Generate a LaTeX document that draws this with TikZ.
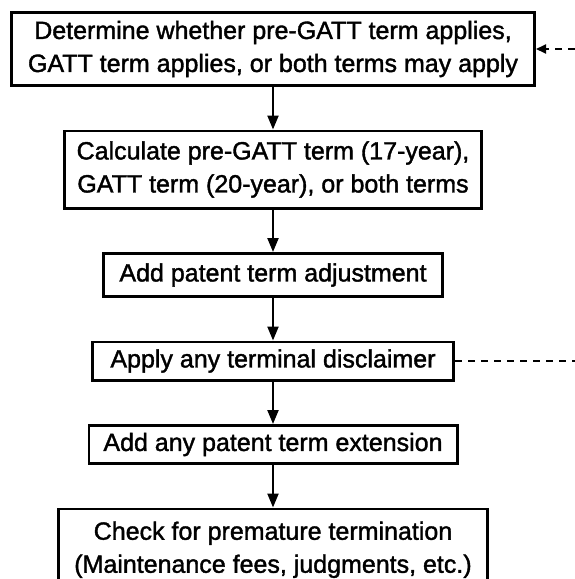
\documentclass[tikz,border=0pt]{standalone}
\usepackage{fontspec}
\setmainfont{Liberation Sans}
\newfontfamily\boxfont{Liberation Sans}[FakeBold=1.5]
\usetikzlibrary{positioning,arrows.meta}
\tikzset{
  stepbox/.style={draw=black, line width=2.6pt, fill=white, align=center, inner xsep=6pt, inner ysep=3pt,
                  font=\boxfont\fontsize{25}{33}\selectfont, minimum height=38.4pt, minimum width=#1},
  stepbox/.default=340pt,
  flow/.style={-{Triangle[length=14pt,width=11pt]}, line width=2.2pt, draw=black},
  dflow/.style={line width=2pt, dash pattern=on 7pt off 6pt, draw=black},
}
\begin{document}
\begin{tikzpicture}[x=1pt, y=-1pt, node distance=42.5pt]
  \useasboundingbox (0,0) rectangle (575,579);
  \node[stepbox=523.4pt, minimum height=73.4pt] (detm) at (273,49) {Determine whether pre-GATT term applies,\\GATT term applies, or both terms may apply};
  \node[stepbox=417.4pt, minimum height=77.4pt, below=of detm] (calc) {Calculate pre-GATT term (17-year),\\GATT term (20-year), or both terms};
  \node[stepbox=339.4pt, minimum height=43.4pt, below=of calc] (pta) {Add patent term adjustment};
  \node[stepbox=361.4pt, below=of pta] (tdis) {Apply any terminal disclaimer};
  \node[stepbox=368.4pt, below=of tdis] (pte) {Add any patent term extension};
  \node[stepbox=429.4pt, minimum height=82pt, below=of pte] (prem) {Check for premature termination\\(Maintenance fees, judgments, etc.)};
  % loose ends running off to the right
  \coordinate (edge) at (575,0);
  \draw[flow] (detm) -- (calc);
  \draw[flow] (calc) -- (pta);
  \draw[flow] (pta) -- (tdis);
  \draw[flow] (tdis) -- (pte);
  \draw[flow] (pte) -- (prem);
  \draw[dflow, -{Triangle[length=10pt,width=9pt]}] (edge |- detm.east) -- (detm.east);
  \draw[dflow] (tdis.east) -- (edge |- tdis.east);
\end{tikzpicture}
\end{document}
